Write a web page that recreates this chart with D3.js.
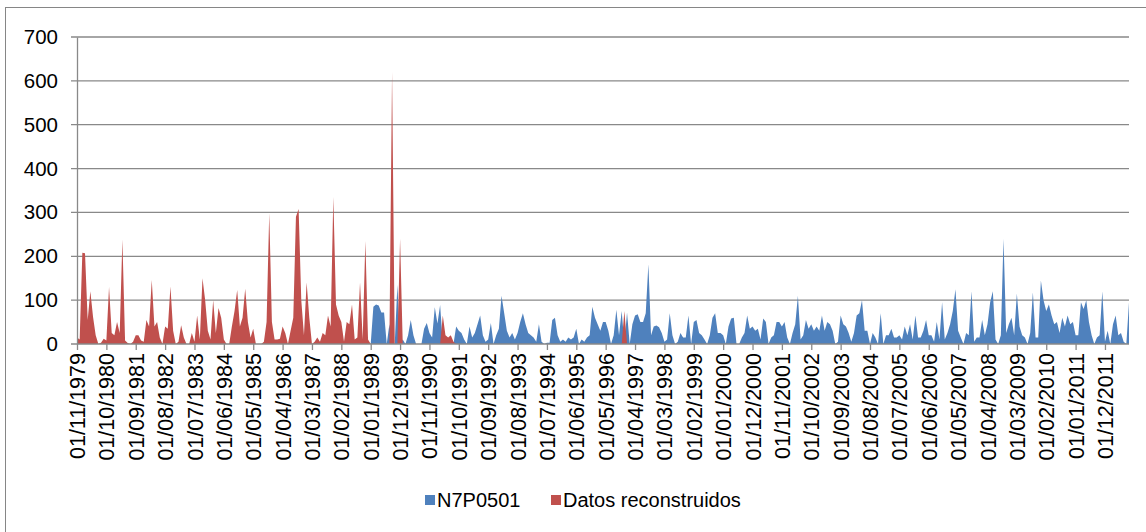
<!DOCTYPE html>
<html>
<head>
<meta charset="utf-8">
<script src="https://cdn.jsdelivr.net/npm/d3@7"></script>
<style>
  body { margin: 0; background: #fff; }
  svg { display: block; font-family: "Liberation Sans", Arial, sans-serif; }
</style>
</head>
<body>
<svg id="chart"></svg>
<script>
// monthly values, first month is 01/11/1979 (one value per month)
const flow = [
    15, 10, 208, 207, 55, 120, 62, 20, 0, 3,
    12, 8, 130, 25, 20, 50, 25, 238, 8, 2,
    0, 5, 20, 20, 8, 5, 55, 40, 146, 40,
    50, 15, 0, 40, 35, 131, 30, 0, 5, 43,
    15, 0, 0, 25, 5, 65, 10, 150, 100, 30,
    10, 100, 25, 82, 60, 10, 0, 0, 40, 75,
    123, 40, 60, 126, 50, 15, 35, 0, 0, 0,
    5, 50, 298, 50, 10, 10, 12, 40, 25, 0,
    30, 60, 290, 308, 100, 20, 140, 60, 0, 5,
    15, 5, 25, 20, 65, 40, 335, 90, 65, 50,
    5, 50, 45, 90, 10, 15, 140, 10, 235, 10,
    0, 85, 90, 88, 72, 72, 0, 45, 620, 0,
    135, 240, 10, 0, 20, 55, 20, 0, 0, 0,
    35, 48, 25, 15, 84, 47, 89, 65, 20, 15,
    20, 5, 40, 30, 25, 10, 0, 40, 15, 25,
    45, 65, 20, 5, 10, 48, 0, 20, 35, 110,
    70, 30, 15, 25, 10, 25, 50, 70, 45, 25,
    20, 15, 5, 45, 5, 0, 3, 3, 55, 60,
    20, 5, 10, 5, 15, 10, 15, 35, 0, 10,
    5, 15, 20, 85, 60, 45, 30, 50, 50, 30,
    0, 20, 78, 20, 75, 75, 72, 0, 45, 65,
    68, 50, 50, 70, 182, 20, 40, 42, 38, 25,
    5, 10, 70, 20, 0, 5, 25, 15, 15, 65,
    0, 50, 55, 25, 20, 10, 0, 20, 60, 70,
    25, 25, 20, 0, 40, 58, 60, 0, 0, 15,
    25, 65, 35, 40, 30, 35, 10, 58, 50, 0,
    15, 20, 50, 50, 40, 50, 15, 0, 25, 45,
    110, 10, 20, 55, 35, 45, 30, 40, 30, 65,
    30, 50, 45, 30, 0, 5, 65, 45, 40, 25,
    5, 25, 65, 70, 100, 30, 30, 0, 25, 15,
    0, 70, 0, 20, 20, 35, 15, 15, 20, 10,
    40, 20, 45, 10, 65, 15, 15, 30, 55, 20,
    20, 5, 50, 10, 95, 10, 25, 45, 75, 125,
    30, 15, 0, 25, 20, 120, 5, 15, 15, 55,
    20, 45, 95, 120, 10, 0, 20, 240, 25, 45,
    60, 20, 115, 40, 20, 15, 0, 25, 118, 15,
    15, 145, 100, 75, 90, 65, 45, 50, 25, 60,
    40, 65, 45, 50, 20, 20, 95, 80, 100, 50,
    20, 0, 15, 20, 120, 5, 30, 0, 45, 65,
    20, 25, 5, 0, 95
];

// month index ranges (inclusive) that hold reconstructed data
const reconstructed = [[0, 109], [118, 119], [121, 121], [137, 141], [205, 205]];

const seriesNames = ['N7P0501', 'Datos reconstruidos'];
const seriesColors = ['#4F81BD', '#C0504D'];
const yTicks = [0, 100, 200, 300, 400, 500, 600, 700];
const firstMonth = new Date(1979, 10, 1);
const labelEvery = 11; // one axis label every 11 months

class AreaChart {

    constructor(_config) {
        this.config = {
            parentElement: _config.parentElement,
            containerWidth: _config.containerWidth || 1146,
            containerHeight: _config.containerHeight || 532,
            margin: _config.margin || { top: 37, right: 17, bottom: 188, left: 77 }
        };
        this.initVis();
    }

    initVis() {
        let vis = this;

        vis.width = vis.config.containerWidth - vis.config.margin.left - vis.config.margin.right;
        vis.height = vis.config.containerHeight - vis.config.margin.top - vis.config.margin.bottom;

        vis.svg = d3.select(vis.config.parentElement)
            .attr('width', vis.config.containerWidth)
            .attr('height', vis.config.containerHeight);

        // outer chart frame (right and bottom edges fall outside the picture)
        vis.svg.append('rect')
            .attr('x', 5.5)
            .attr('y', 7.5)
            .attr('width', vis.config.containerWidth + 20)
            .attr('height', vis.config.containerHeight + 20)
            .attr('fill', 'none')
            .attr('stroke', '#868686')
            .attr('stroke-width', 1);

        vis.chart = vis.svg.append('g')
            .attr('transform', `translate(${vis.config.margin.left},${vis.config.margin.top})`);

        vis.months = d3.range(flow.length).map(i => d3.timeMonth.offset(firstMonth, i));

        vis.xScale = d3.scalePoint()
            .domain(d3.range(flow.length))
            .range([0, vis.width]);

        vis.yScale = d3.scaleLinear()
            .domain([0, 700])
            .range([vis.height, 0]);

        vis.gridG = vis.chart.append('g');
        vis.areaG = vis.chart.append('g');
        vis.xAxisG = vis.chart.append('g')
            .attr('transform', `translate(0,${vis.height})`);
        vis.yAxisG = vis.chart.append('g');
        vis.legend = vis.svg.append('g');

        vis.updateVis();
    }

    updateVis() {
        let vis = this;

        const isRecon = i => reconstructed.some(r => i >= r[0] && i <= r[1]);

        // Excel area chart: blank cells drop to zero
        vis.series = [
            flow.map((v, i) => isRecon(i) ? 0 : v),
            flow.map((v, i) => isRecon(i) ? v : 0)
        ];

        vis.renderVis();
    }

    renderVis() {
        let vis = this;

        // horizontal gridlines, including the small tick left of the axis
        vis.gridG.selectAll('.grid')
            .data(yTicks.filter(d => d > 0))
            .join('line')
            .attr('class', 'grid')
            .attr('x1', -6)
            .attr('x2', vis.width)
            .attr('y1', d => vis.yScale(d))
            .attr('y2', d => vis.yScale(d))
            .attr('stroke', '#898989')
            .attr('stroke-width', 1.3);

        const area = d3.area()
            .x((d, i) => vis.xScale(i))
            .y0(vis.yScale(0))
            .y1(d => vis.yScale(d));

        vis.areaG.selectAll('.series')
            .data(vis.series)
            .join('path')
            .attr('class', 'series')
            .attr('d', area)
            .attr('fill', (d, i) => seriesColors[i]);

        // x axis, labels every 11 months
        const fmt = d3.timeFormat('%d/%m/%Y');
        vis.xAxisG.call(d3.axisBottom(vis.xScale)
            .tickValues(d3.range(0, flow.length, labelEvery))
            .tickSize(6)
            .tickSizeOuter(0)
            .tickFormat(i => fmt(vis.months[i])));
        vis.xAxisG.select('.domain')
            .attr('stroke', '#898989')
            .attr('stroke-width', 1.3)
            .attr('d', `M-6,0H${vis.width}`);
        vis.xAxisG.selectAll('.tick line')
            .attr('stroke', '#898989')
            .attr('stroke-width', 1.3);
        vis.xAxisG.selectAll('.tick text')
            .attr('transform', 'rotate(-90)')
            .attr('x', -9)
            .attr('y', 0)
            .attr('dy', '0.35em')
            .attr('text-anchor', 'end')
            .attr('font-size', 21.5)
            .attr('fill', '#000');

        // y axis
        vis.yAxisG.call(d3.axisLeft(vis.yScale)
            .tickValues(yTicks)
            .tickSize(0)
            .tickPadding(19));
        vis.yAxisG.select('.domain')
            .attr('stroke', '#898989')
            .attr('stroke-width', 1.3);
        vis.yAxisG.selectAll('.tick text')
            .attr('font-size', 20.5)
            .attr('fill', '#000');

        // legend
        const legendX = [425, 551];
        const legendY = 500;
        const item = vis.legend.selectAll('.legend-item')
            .data(seriesNames)
            .join('g')
            .attr('class', 'legend-item')
            .attr('transform', (d, i) => `translate(${legendX[i]},${legendY})`);

        item.append('rect')
            .attr('x', 0)
            .attr('y', -5)
            .attr('width', 10)
            .attr('height', 10)
            .attr('fill', (d, i) => seriesColors[i]);

        item.append('text')
            .attr('x', 12)
            .attr('y', 0)
            .attr('dy', '0.35em')
            .attr('font-size', 20)
            .attr('fill', '#000')
            .text(d => d);
    }
}

new AreaChart({ parentElement: '#chart' });
</script>
</body>
</html>
